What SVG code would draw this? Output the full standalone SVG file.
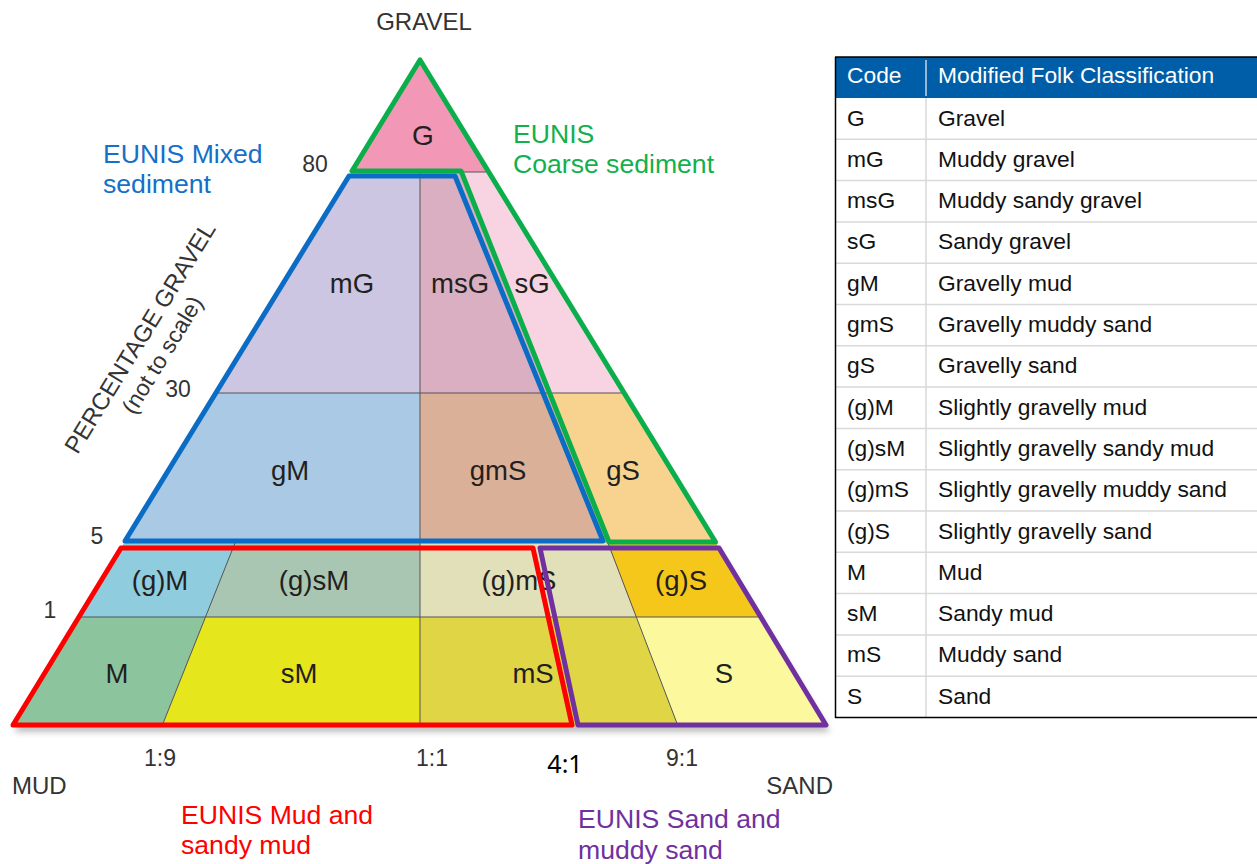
<svg xmlns="http://www.w3.org/2000/svg" width="1257" height="864" viewBox="0 0 1257 864">
<defs>
<filter id="shadow" x="-5%" y="-5%" width="110%" height="115%">
<feGaussianBlur stdDeviation="3"/>
</filter>
</defs>
<style>
.lbl{font-family:"Liberation Sans",Arial,sans-serif;font-size:27.5px;fill:#231f20;text-anchor:middle}
.ax{font-family:"Liberation Sans",Arial,sans-serif;font-size:23px;fill:#333}
.eu{font-family:"Liberation Sans",Arial,sans-serif;font-size:26.6px}
.thin{stroke:#555;stroke-width:1;fill:none}
.out{fill:none;stroke-width:5;stroke-linejoin:round}
.tb{font-family:"Liberation Sans",Arial,sans-serif;font-size:22.8px;fill:#111}
.th{font-family:"Liberation Sans",Arial,sans-serif;font-size:22.8px;fill:#fff}
.rl{stroke:#d9d9d9;stroke-width:1.5}
</style>
<rect width="1257" height="864" fill="#fff"/>
<polygon points="420,64 14,732 830,732" fill="#888" opacity="0.55" filter="url(#shadow)"/>
<g id="regions">
<g id="G"><polygon points="420,60 351.4,172 488.6,172" fill="#f397b6"/><text class="lbl" x="423" y="145" style="font-size:28px">G</text></g>
<g id="mG"><polygon points="351.4,172 420,172 420,393 216.3,393" fill="#cdc6e2"/><text class="lbl" x="352" y="293">mG</text></g>
<g id="msG"><polygon points="420,172 459,172 547,393 420,393" fill="#d9afc1"/><text class="lbl" x="460" y="293">msG</text></g>
<g id="sG"><polygon points="459,172 488.6,172 624,393 547,393" fill="#f8d4e2"/><text class="lbl" x="532" y="293">sG</text></g>
<g id="gM"><polygon points="216.3,393 420,393 420,543 124.1,543" fill="#a9c9e4"/><text class="lbl" x="290" y="480">gM</text></g>
<g id="gmS"><polygon points="420,393 547,393 607,543 420,543" fill="#dbb098"/><text class="lbl" x="498" y="480">gmS</text></g>
<g id="gS"><polygon points="547,393 624,393 716,543 607,543" fill="#f8d38f"/><text class="lbl" x="623" y="480">gS</text></g>
<g id="gM2"><polygon points="124.1,543 235,543 205.5,617 78.8,617" fill="#8fccde"/><text class="lbl" x="160" y="590">(g)M</text></g>
<g id="gsM"><polygon points="235,543 420,543 420,617 205.5,617" fill="#a8c6b2"/><text class="lbl" x="314" y="590">(g)sM</text></g>
<g id="gmS2"><polygon points="420,543 608,543 636,617 420,617" fill="#e2e0b8"/><text class="lbl" x="519" y="590">(g)mS</text></g>
<g id="gS2"><polygon points="608,543 716,543 761.2,617 636,617" fill="#f6c71b"/><text class="lbl" x="681" y="590">(g)S</text></g>
<g id="M"><polygon points="78.8,617 205.5,617 162,726 12,726" fill="#8cc49e"/><text class="lbl" x="117" y="683">M</text></g>
<g id="sM"><polygon points="205.5,617 420,617 420,726 162,726" fill="#e5e61b"/><text class="lbl" x="299" y="683">sM</text></g>
<g id="mS"><polygon points="420,617 636,617 678,726 420,726" fill="#e0d645"/><text class="lbl" x="533" y="683">mS</text></g>
<g id="S"><polygon points="636,617 761.2,617 828,726 678,726" fill="#fcf89e"/><text class="lbl" x="724" y="683">S</text></g>
</g>
<g id="connectors">
<line class="thin" x1="488.6" y1="172" x2="459" y2="172"/>
<line class="thin" x1="216.3" y1="393" x2="624" y2="393"/>
<line class="thin" x1="78.8" y1="617" x2="761.2" y2="617"/>
<line class="thin" x1="420" y1="172" x2="420" y2="726"/>
<line class="thin" x1="235" y1="543" x2="162" y2="726"/>
<line class="thin" x1="608" y1="543" x2="678" y2="726"/>
<polygon class="out" stroke="#0a6cc4" points="349,176 455,176 603,541 125,541"/>
<polygon class="out" stroke="#0aae4a" points="420,60 352,171 461,171 609,542 715.5,542"/>
<polygon class="out" stroke="#ff0000" points="121,548 533,548 572,725 13,725"/>
<polygon class="out" stroke="#7030a0" points="540,548 719,548 826,725 578,725"/>
</g>
<g id="axis">
<text class="ax" x="424" y="30" text-anchor="middle" style="font-size:24px">GRAVEL</text>
<text class="ax" x="315" y="172" text-anchor="middle">80</text>
<text class="ax" x="178" y="397" text-anchor="middle">30</text>
<text class="ax" x="97" y="544" text-anchor="middle">5</text>
<text class="ax" x="50" y="618" text-anchor="middle">1</text>
<text class="ax" x="160" y="766" text-anchor="middle">1:9</text>
<text class="ax" x="432" y="766" text-anchor="middle">1:1</text>
<text class="ax" x="682" y="766" text-anchor="middle">9:1</text>
<text x="565" y="773" text-anchor="middle" style="font-family:'Noto Sans',sans-serif;font-size:25px;fill:#000">4:1</text>
<text class="ax" x="12" y="794" style="font-size:24px">MUD</text>
<text class="ax" x="833" y="794" text-anchor="end" style="font-size:24px">SAND</text>
<text class="ax" transform="translate(147,342) rotate(-58.5)" text-anchor="middle" style="font-size:24px">PERCENTAGE GRAVEL</text>
<text class="ax" transform="translate(169,359) rotate(-58.5)" text-anchor="middle" style="font-size:23px">(not to scale)</text>
</g>
<g id="eunis-labels">
<text class="eu" fill="#1470c8" x="103" y="163">EUNIS Mixed</text>
<text class="eu" fill="#1470c8" x="103" y="193">sediment</text>
<text class="eu" fill="#12b04e" x="513" y="143">EUNIS</text>
<text class="eu" fill="#12b04e" x="513" y="173">Coarse sediment</text>
<text class="eu" fill="#ff0000" x="181" y="824">EUNIS Mud and</text>
<text class="eu" fill="#ff0000" x="181" y="854">sandy mud</text>
<text class="eu" fill="#7030a0" x="578" y="828">EUNIS Sand and</text>
<text class="eu" fill="#7030a0" x="578" y="859">muddy sand</text>
</g>
<g id="table">
<rect x="835" y="57" width="422" height="41" fill="#005ea8"/>
<line x1="926" y1="60" x2="926" y2="96" stroke="#c8d4e6" stroke-width="1.5"/>
<text class="th" x="847" y="83">Code</text>
<text class="th" x="938" y="83">Modified Folk Classification</text>
<line class="rl" x1="926" y1="98" x2="926" y2="717"/>
<line class="rl" x1="835" y1="139.3" x2="1257" y2="139.3"/>
<line class="rl" x1="835" y1="180.6" x2="1257" y2="180.6"/>
<line class="rl" x1="835" y1="221.9" x2="1257" y2="221.9"/>
<line class="rl" x1="835" y1="263.2" x2="1257" y2="263.2"/>
<line class="rl" x1="835" y1="304.5" x2="1257" y2="304.5"/>
<line class="rl" x1="835" y1="345.8" x2="1257" y2="345.8"/>
<line class="rl" x1="835" y1="387.1" x2="1257" y2="387.1"/>
<line class="rl" x1="835" y1="428.4" x2="1257" y2="428.4"/>
<line class="rl" x1="835" y1="469.7" x2="1257" y2="469.7"/>
<line class="rl" x1="835" y1="511" x2="1257" y2="511"/>
<line class="rl" x1="835" y1="552.3" x2="1257" y2="552.3"/>
<line class="rl" x1="835" y1="593.6" x2="1257" y2="593.6"/>
<line class="rl" x1="835" y1="634.9" x2="1257" y2="634.9"/>
<line class="rl" x1="835" y1="676.2" x2="1257" y2="676.2"/>
<line x1="835" y1="57" x2="1257" y2="57" stroke="#000" stroke-width="1.5"/>
<line x1="835.5" y1="57" x2="835.5" y2="718" stroke="#000" stroke-width="1.5"/>
<line x1="835" y1="717.5" x2="1257" y2="717.5" stroke="#000" stroke-width="1.5"/>
<text class="tb" x="847" y="125.5">G</text><text class="tb" x="938" y="125.5">Gravel</text>
<text class="tb" x="847" y="166.8">mG</text><text class="tb" x="938" y="166.8">Muddy gravel</text>
<text class="tb" x="847" y="208.1">msG</text><text class="tb" x="938" y="208.1">Muddy sandy gravel</text>
<text class="tb" x="847" y="249.4">sG</text><text class="tb" x="938" y="249.4">Sandy gravel</text>
<text class="tb" x="847" y="290.7">gM</text><text class="tb" x="938" y="290.7">Gravelly mud</text>
<text class="tb" x="847" y="332">gmS</text><text class="tb" x="938" y="332">Gravelly muddy sand</text>
<text class="tb" x="847" y="373.3">gS</text><text class="tb" x="938" y="373.3">Gravelly sand</text>
<text class="tb" x="847" y="414.6">(g)M</text><text class="tb" x="938" y="414.6">Slightly gravelly mud</text>
<text class="tb" x="847" y="455.9">(g)sM</text><text class="tb" x="938" y="455.9">Slightly gravelly sandy mud</text>
<text class="tb" x="847" y="497.2">(g)mS</text><text class="tb" x="938" y="497.2">Slightly gravelly muddy sand</text>
<text class="tb" x="847" y="538.5">(g)S</text><text class="tb" x="938" y="538.5">Slightly gravelly sand</text>
<text class="tb" x="847" y="579.8">M</text><text class="tb" x="938" y="579.8">Mud</text>
<text class="tb" x="847" y="621.1">sM</text><text class="tb" x="938" y="621.1">Sandy mud</text>
<text class="tb" x="847" y="662.4">mS</text><text class="tb" x="938" y="662.4">Muddy sand</text>
<text class="tb" x="847" y="703.7">S</text><text class="tb" x="938" y="703.7">Sand</text>
</g>
</svg>
